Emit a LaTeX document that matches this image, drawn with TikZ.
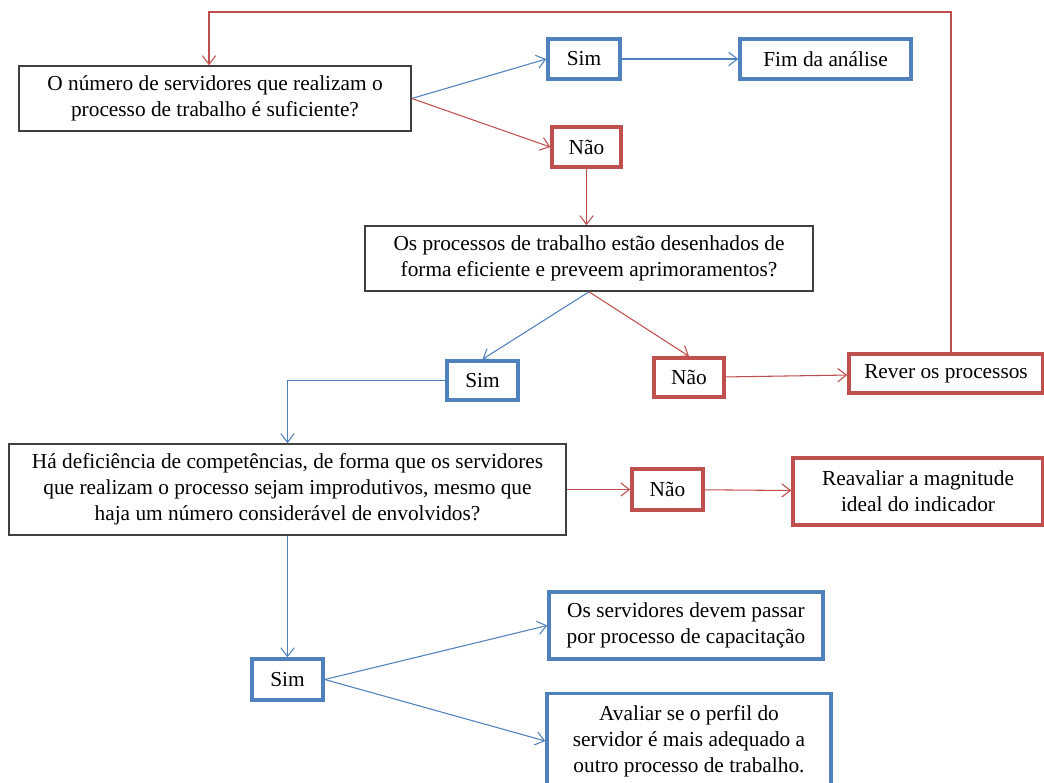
\documentclass[tikz,border=0pt]{standalone}
\usepackage{fontspec}
\setmainfont{Liberation Serif}
\usetikzlibrary{positioning,arrows.meta}
\definecolor{azul}{HTML}{4F81BD}
\definecolor{verm}{HTML}{C0504D}

\begin{document}
\begin{tikzpicture}[x=0.75pt, y=-0.75pt, node distance=90pt,
                    tam/.style 2 args={minimum width=#1pt, minimum height=#2pt},
                    caixa/.style={align=center, inner sep=0pt, fill=white,
                                  font=\fontsize{16}{19.5}\selectfont},
                    pergunta/.style={caixa, draw=black!75, line width=1.2pt},
                    sim/.style={caixa, draw=azul, line width=2.6pt},
                    nao/.style={caixa, draw=verm, line width=2.6pt},
                    seta/.style={line width=0.8pt, -{Straight Barb[length=6.5pt,width=10pt]}}]

\useasboundingbox (0,0) rectangle (1044,782);

\node[pergunta, tam={294}{48.75}] (perg1) at (215,98.5) {O número de servidores que realizam  o\\processo de trabalho é suficiente?};
\node[sim, tam={54}{30}] (sim1) at (584,59) {Sim};
\node[sim, tam={128.25}{30}] (fim) at (825.5,59) {Fim da análise};
\node[nao, tam={51.75}{30}] (nao1) at (586.5,147) {Não};
\node[pergunta, tam={336}{48.75}] (perg2) at (589,258.5) {Os processos de trabalho estão desenhados de\\forma eficiente  e preveem aprimoramentos?};
\node[sim, tam={53.25}{29.25}] (sim2) at (482.5,380.5) {Sim};
\node[nao, tam={52.5}{29.25}] (nao2) at (689,377.5) {Não};
\node[nao, tam={145.5}{29.25}] (rever) at (946,373.5) {Rever os processos};
\node[pergunta, tam={417.75}{68.25}] (perg3) at (287.5,489.5) {Há deficiência  de competências, de forma que os servidores\\que realizam  o processo sejam improdutivos, mesmo que\\haja um número considerável de envolvidos?};
\node[nao, tam={53.25}{30.75}] (nao3) at (667.5,489.5) {Não};
\node[nao, tam={187.5}{50.25}] (reav) at (918,491.5) {Reavaliar  a magnitude\\ideal do indicador};
\node[sim, tam={53.25}{30.75}] (sim3) at (287.5,679.5) {Sim};
\node[sim, tam={205.5}{50.25}] (capac) at (686,625.5) {Os servidores devem passar\\por processo de capacitação};
\node[sim, tam={213}{71.25}] (perfil) at (689,741) {Avaliar  se o perfil do\\servidor é mais adequado a\\outro processo de trabalho.};

\coordinate (voltaD) at (951,12);
\coordinate (voltaE) at (209,12);

\path[seta]
    (perg1.east) edge[azul] (sim1.west)
    (perg1.east) edge[verm] (nao1.west)
    (sim1) edge[azul] (fim)
    (perg2.south) edge[azul] (sim2.north)
    (perg2.south) edge[verm] (nao2.north)
    (nao2) edge[verm] (rever)
    (perg3) edge[verm] (nao3)
    (nao3) edge[verm] (reav)
    (perg3) edge[azul] (sim3)
    (sim3.east) edge[azul] (capac.west)
    (sim3.east) edge[azul] (perfil.west);

\draw[seta, verm] (nao1.south) -- (nao1.south |- perg2.north);
\draw[seta, azul] (sim2.west) -| (perg3.north);
\draw[seta, verm] (rever.north -| voltaD) -- (voltaD) -- (voltaE) -- (voltaE |- perg1.north);
\end{tikzpicture}
\end{document}
